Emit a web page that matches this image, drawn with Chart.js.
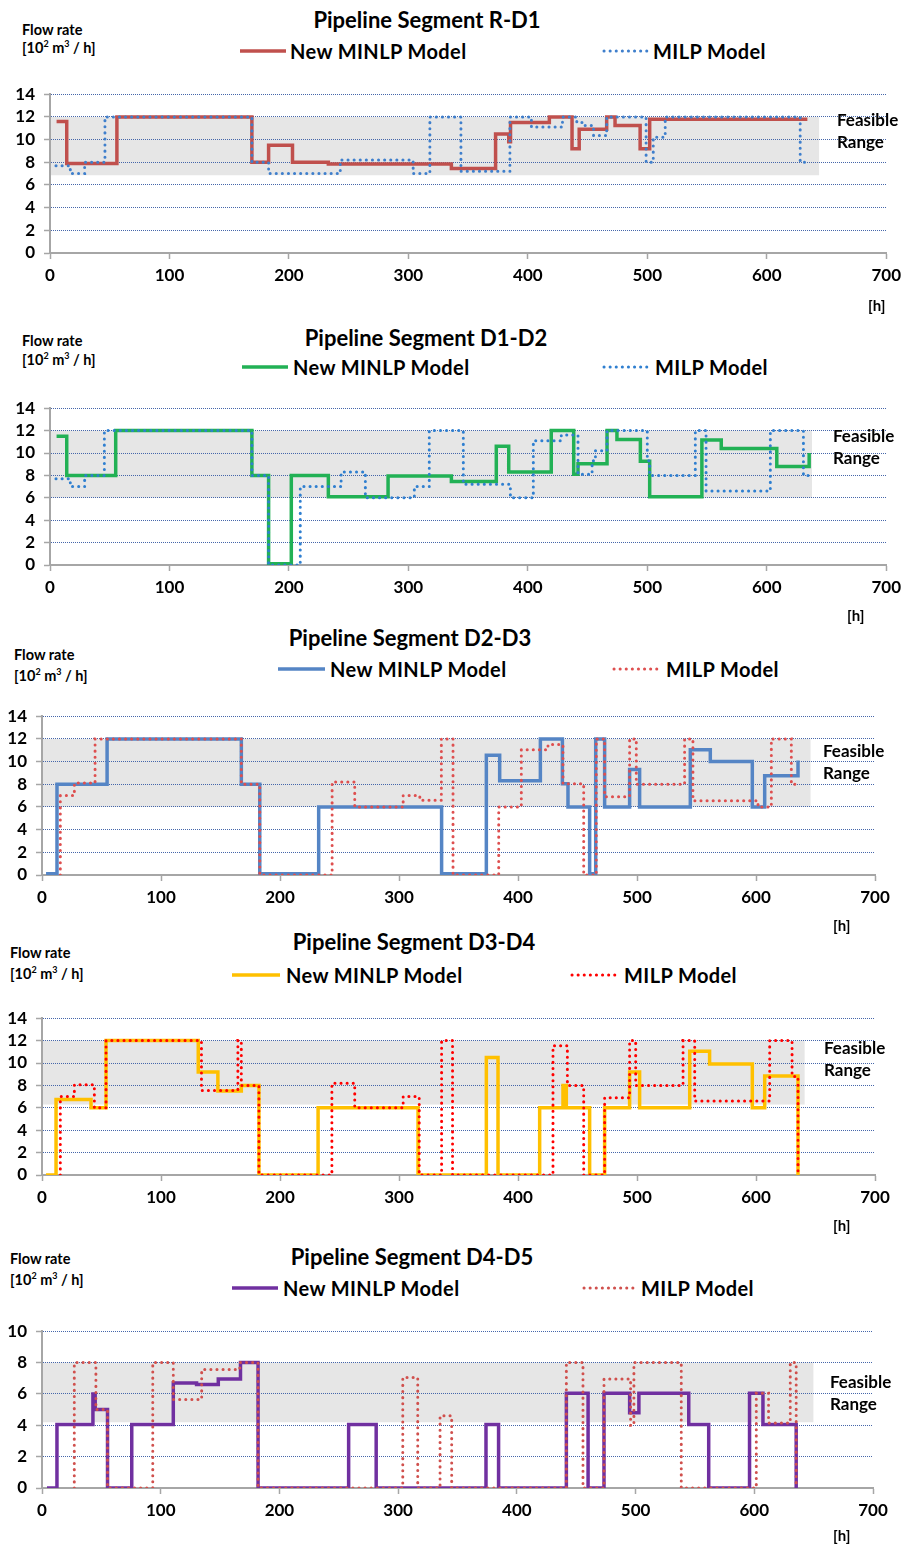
<!DOCTYPE html>
<html><head><meta charset="utf-8">
<script src="https://cdn.jsdelivr.net/npm/chart.js@4.4.1/dist/chart.umd.min.js"></script>
<style>
html,body{margin:0;padding:0;background:#fff;}
body{width:907px;height:1548px;position:relative;overflow:hidden;font-family:Lato,'Open Sans',sans-serif;color:#000;}
canvas{position:absolute;left:0;}
.t{position:absolute;white-space:nowrap;font-weight:700;color:#000;}
.title{font-size:22px;width:600px;text-align:center;line-height:26px;}
.fr{font-size:14.5px;line-height:18px;}
.lg{font-size:20px;line-height:22px;letter-spacing:0.4px;}
.fe{font-size:17px;line-height:20px;}
.h{font-size:15px;line-height:18px;}
sup{font-size:9px;vertical-align:6px;line-height:0;}
svg{position:absolute;overflow:visible;}
</style></head><body>

<script>
// ---------- axis ticks ----------
const xTickValues = [0, 100, 200, 300, 400, 500, 600, 700];
const yTicks14 = [0, 2, 4, 6, 8, 10, 12, 14];
const yTicks10 = [0, 2, 4, 6, 8, 10];

// ---------- feasible ranges (lower, upper, end hour) ----------
const feasLow = [6.85, 6, 6, 6.3, 4.2];
const feasHigh = [12, 12, 12, 12, 8];
const feasEnd = [644, 638, 646, 641, 650];

// ---------- Segment R-D1 ----------
const rd1NewHours = [5.5, 14, 56, 169, 183, 203, 233, 336, 373, 384, 385.5, 418, 437, 443, 466, 473, 494, 502, 634];
const rd1NewFlow  = [11.6, 7.9, 12, 8, 9.5, 8, 7.85, 7.45, 10.5, 9.8, 11.5, 12, 9.2, 10.9, 12, 11.25, 9.2, 11.8, 11.8];
const rd1MilpHours = [5, 17, 29, 46, 169, 183, 243, 304, 318, 344, 385, 403, 429, 441, 447, 455, 466, 499, 505, 515, 628, 634];
const rd1MilpFlow  = [7.7, 7.0, 8.0, 12, 8, 7.0, 8.2, 7.0, 12, 7.2, 12, 11.1, 12, 11.5, 11.25, 10.35, 12, 8, 10.2, 12, 8, 8];

// ---------- Segment D1-D2 ----------
const d12NewHours = [5.5, 14, 55, 169, 183, 202, 233, 283, 336, 373.6, 384, 419.6, 438.4, 442, 466.3, 474.6, 494.2, 502, 545.7, 561.9, 608.4, 635.5];
const d12NewFlow  = [11.5, 8, 12, 8, 0.12, 8, 6.1, 7.95, 7.45, 10.6, 8.3, 12, 8.1, 9.05, 12, 11.2, 9.27, 6.1, 11.15, 10.4, 8.8, 10];
const d12MilpHours = [5, 17, 29, 45.5, 169, 183, 209.5, 243.7, 264, 305, 317.5, 346, 385.4, 404.6, 428, 442, 453.8, 456.6, 466.3, 500, 502, 540.2, 549.2, 603, 630.7, 636];
const d12MilpFlow  = [7.7, 7.0, 8.0, 12, 8, 0, 7.0, 8.3, 6.0, 7.0, 12, 7.2, 6.0, 11.1, 11.6, 8.1, 9.3, 10.2, 12, 9.3, 8.0, 12, 6.6, 12, 8, 8];

// ---------- Segment D2-D3 ----------
const d23NewHours = [3.4, 12.6, 54.7, 167.5, 183, 232.5, 335.8, 373.4, 384.6, 418.8, 437.3, 442, 460.2, 465.3, 472.8, 493.8, 502.2, 544.8, 561.6, 596.9, 607.3, 635.3];
const d23NewFlow  = [0.1, 8, 12, 8, 0.1, 6, 0.1, 10.55, 8.3, 12, 8.05, 6, 0.1, 12, 6, 9.3, 6, 11.05, 10, 6, 8.75, 10.1];
const d23MilpHours = [15.4, 15.4, 27.2, 44.6, 167.5, 183, 243.8, 262.8, 303.5, 317.5, 335.6, 345.4, 383.8, 402.8, 425.2, 437.8, 455.2, 465.8, 472.8, 493.8, 499.4, 540, 547, 601.7, 612.9, 629.7, 635];
const d23MilpFlow  = [0, 7.0, 8.1, 12, 8, 0, 8.2, 6.0, 7.0, 6.6, 12, 0, 6.0, 11.05, 11.5, 8.05, 0, 12, 6.9, 12, 8.0, 12, 6.55, 6.0, 12, 8.0, 8.0];

// ---------- Segment D3-D4 ----------
const d34NewHours = [3.4, 11.8, 41.2, 53.8, 131.3, 147.8, 167.5, 182.3, 232, 316, 373.4, 383.2, 418.2, 437.8, 440.6, 460.2, 472.8, 493.8, 502.2, 544.3, 561, 596.9, 607.3, 635.3];
const d34NewFlow  = [0, 6.75, 6, 12, 9.2, 7.5, 8, 0, 6, 0, 10.5, 0, 6, 8, 6, 0, 6, 9.2, 6, 11.05, 9.9, 6, 8.85, 0];
const d34MilpHours = [15.4, 15.4, 27.2, 44, 53.8, 134, 164.6, 167.5, 182.3, 243.6, 262.8, 303.5, 317, 335.8, 345, 429.4, 441.5, 455.2, 472.8, 493.8, 498.9, 538.7, 548.5, 611.5, 630.3, 635.3];
const d34MilpFlow  = [0, 7, 8.05, 6, 12, 7.55, 12, 8, 0, 8.2, 6, 7, 0, 12, 0, 11.55, 8, 0, 6.9, 12, 8, 12, 6.6, 12, 8.8, 0];

// ---------- Segment D4-D5 ----------
const d45NewHours = [4.2, 12.6, 42.9, 44.8, 55.2, 75.6, 110.6, 130.2, 148.5, 167.2, 182, 258.3, 281.5, 374, 384.6, 441.7, 460, 473.4, 495, 502.8, 544.8, 561.6, 596, 607.3, 635.3];
const d45NewFlow  = [0, 4.05, 6, 5, 0, 4.05, 6.7, 6.6, 6.95, 8, 0, 4.05, 0, 4.05, 0, 6.05, 0, 6.05, 4.8, 6.05, 4.05, 0, 6.05, 4.05, 0];
const d45MilpHours = [27.2, 27.2, 45.4, 55.2, 93.3, 110.6, 134.5, 166.6, 182, 303.9, 316.5, 335.3, 345.1, 441.7, 455.7, 473.4, 495.8, 498.6, 538.5, 601.7, 612, 630.3, 635.3];
const d45MilpFlow  = [0, 8, 5, 0, 8, 5.65, 7.55, 8, 0, 7.05, 0, 4.6, 0, 8, 0, 6.95, 4, 8, 0, 6.05, 4.15, 8, 0];

const FONT = "Lato, 'Open Sans', sans-serif";

function pts(h, v) { return h.map((x, i) => ({x: x, y: v[i]})); }

function makePanel(box, idx, newH, newV, newColor, milpH, milpV, milpColor, yTicks) {
  const padTop = 14, xH = 44;
  const cv = document.createElement('canvas');
  const H = (box.B - box.T) + padTop + xH;
  cv.width = 907; cv.height = H;
  cv.style.top = (box.T - padTop) + 'px';
  cv.style.width = '907px'; cv.style.height = H + 'px';
  document.body.appendChild(cv);
  const yMax = yTicks[yTicks.length - 1];
  new Chart(cv, {
    type: 'line',
    data: {
      datasets: [
        {
          label: 'MILP Model', data: pts(milpH, milpV), order: 0,
          stepped: 'before', borderColor: milpColor, borderWidth: 3,
          borderDash: [0.1, 6], borderCapStyle: 'round', pointRadius: 0, fill: false
        },
        {
          label: 'New MINLP Model', data: pts(newH, newV), order: 1,
          stepped: 'before', borderColor: newColor, borderWidth: 3.5,
          borderJoinStyle: 'miter', borderCapStyle: 'butt', pointRadius: 0, fill: false
        },
        {
          label: 'Feasible Range',
          data: [{x: 0, y: feasHigh[idx]}, {x: feasEnd[idx], y: feasHigh[idx]}],
          order: 2, borderWidth: 0, borderColor: 'rgba(0,0,0,0)',
          backgroundColor: '#e6e6e6', pointRadius: 0, fill: {value: feasLow[idx]}
        }
      ]
    },
    options: {
      responsive: false, animation: false, devicePixelRatio: 1,
      layout: {padding: {top: padTop, right: 907 - box.R, bottom: 0, left: 0}},
      plugins: {legend: {display: false}, tooltip: {enabled: false}, title: {display: false},
                filler: {drawTime: 'beforeDraw'}},
      scales: {
        x: {
          type: 'linear', min: 0, max: 700,
          afterBuildTicks: s => { s.ticks = xTickValues.map(v => ({value: v})); },
          afterFit: s => { s.height = xH; },
          ticks: {font: {family: FONT, size: 17, weight: 'bold'}, color: '#000', padding: 6, maxRotation: 0, autoSkip: false},
          grid: {drawOnChartArea: false, drawTicks: true, tickLength: 6, tickColor: '#a6a6a6', tickWidth: 1.5},
          border: {color: '#a6a6a6', width: 2}
        },
        y: {
          type: 'linear', min: 0, max: yMax,
          afterBuildTicks: s => { s.ticks = yTicks.map(v => ({value: v})); },
          afterFit: s => { s.width = box.L; },
          ticks: {font: {family: FONT, size: 17, weight: 'bold'}, color: '#000', padding: 9, autoSkip: false},
          grid: {color: c => (c.tick && c.tick.value === 0) ? 'rgba(0,0,0,0)' : '#4566aa',
                 lineWidth: 1, tickLength: 6, tickColor: '#a6a6a6', tickWidth: 1.5},
          border: {color: '#a6a6a6', width: 2, dash: [1, 1]}
        }
      }
    }
  });
}

makePanel({L: 50, R: 889, T: 89, B: 253}, 0, rd1NewHours, rd1NewFlow, '#C0504D', rd1MilpHours, rd1MilpFlow, '#3F7FCC', yTicks14);
makePanel({L: 50, R: 889, T: 403, B: 565}, 1, d12NewHours, d12NewFlow, '#22B155', d12MilpHours, d12MilpFlow, '#2F7FD0', yTicks14);
makePanel({L: 42, R: 875, T: 711, B: 875}, 2, d23NewHours, d23NewFlow, '#5585C5', d23MilpHours, d23MilpFlow, '#DE4F4F', yTicks14);
makePanel({L: 42, R: 875, T: 1013, B: 1175}, 3, d34NewHours, d34NewFlow, '#FFC000', d34MilpHours, d34MilpFlow, '#FF0000', yTicks14);
makePanel({L: 42, R: 873, T: 1326, B: 1488}, 4, d45NewHours, d45NewFlow, '#7030A0', d45MilpHours, d45MilpFlow, '#D0504D', yTicks10);
</script>

<!-- Panel 1 -->
<div class="t title" style="left:127px;top:7px">Pipeline Segment R-D1</div>
<div class="t fr" style="left:22px;top:21px">Flow rate</div>
<div class="t fr" style="left:22px;top:39px">[10<sup>2</sup> m<sup>3</sup> / h]</div>
<svg style="left:240px;top:48px" width="46" height="6"><line x1="0" y1="3" x2="46" y2="3" stroke="#C0504D" stroke-width="3.5"/></svg>
<div class="t lg" style="left:290px;top:40px">New MINLP Model</div>
<svg style="left:602px;top:48px" width="46" height="6"><line x1="2" y1="3" x2="46" y2="3" stroke="#3F7FCC" stroke-width="3" stroke-dasharray="0.1 6" stroke-linecap="round"/></svg>
<div class="t lg" style="left:653px;top:40px">MILP Model</div>
<div class="t fe" style="left:837px;top:110px">Feasible</div>
<div class="t fe" style="left:837px;top:132px">Range</div>
<div class="t h" style="left:868px;top:296px">[h]</div>

<!-- Panel 2 -->
<div class="t title" style="left:126px;top:325px">Pipeline Segment D1-D2</div>
<div class="t fr" style="left:22px;top:332px">Flow rate</div>
<div class="t fr" style="left:22px;top:351px">[10<sup>2</sup> m<sup>3</sup> / h]</div>
<svg style="left:242px;top:364px" width="46" height="6"><line x1="0" y1="3" x2="46" y2="3" stroke="#22B155" stroke-width="3.5"/></svg>
<div class="t lg" style="left:293px;top:356px">New MINLP Model</div>
<svg style="left:602px;top:364px" width="48" height="6"><line x1="2" y1="3" x2="48" y2="3" stroke="#2F7FD0" stroke-width="3" stroke-dasharray="0.1 6" stroke-linecap="round"/></svg>
<div class="t lg" style="left:655px;top:356px">MILP Model</div>
<div class="t fe" style="left:833px;top:426px">Feasible</div>
<div class="t fe" style="left:833px;top:448px">Range</div>
<div class="t h" style="left:847px;top:606px">[h]</div>

<!-- Panel 3 -->
<div class="t title" style="left:110px;top:625px">Pipeline Segment D2-D3</div>
<div class="t fr" style="left:14px;top:646px">Flow rate</div>
<div class="t fr" style="left:14px;top:667px">[10<sup>2</sup> m<sup>3</sup> / h]</div>
<svg style="left:278px;top:666px" width="47" height="6"><line x1="0" y1="3" x2="47" y2="3" stroke="#5585C5" stroke-width="3.5"/></svg>
<div class="t lg" style="left:330px;top:658px">New MINLP Model</div>
<svg style="left:612px;top:666px" width="48" height="6"><line x1="2" y1="3" x2="48" y2="3" stroke="#DE4F4F" stroke-width="3" stroke-dasharray="0.1 6" stroke-linecap="round"/></svg>
<div class="t lg" style="left:666px;top:658px">MILP Model</div>
<div class="t fe" style="left:823px;top:741px">Feasible</div>
<div class="t fe" style="left:823px;top:763px">Range</div>
<div class="t h" style="left:833px;top:916px">[h]</div>

<!-- Panel 4 -->
<div class="t title" style="left:114px;top:929px">Pipeline Segment D3-D4</div>
<div class="t fr" style="left:10px;top:944px">Flow rate</div>
<div class="t fr" style="left:10px;top:965px">[10<sup>2</sup> m<sup>3</sup> / h]</div>
<svg style="left:232px;top:972px" width="48" height="6"><line x1="0" y1="3" x2="48" y2="3" stroke="#FFC000" stroke-width="3.5"/></svg>
<div class="t lg" style="left:286px;top:964px">New MINLP Model</div>
<svg style="left:570px;top:972px" width="50" height="6"><line x1="2" y1="3" x2="50" y2="3" stroke="#FF0000" stroke-width="3" stroke-dasharray="0.1 6" stroke-linecap="round"/></svg>
<div class="t lg" style="left:624px;top:964px">MILP Model</div>
<div class="t fe" style="left:824px;top:1038px">Feasible</div>
<div class="t fe" style="left:824px;top:1060px">Range</div>
<div class="t h" style="left:833px;top:1216px">[h]</div>

<!-- Panel 5 -->
<div class="t title" style="left:112px;top:1244px">Pipeline Segment D4-D5</div>
<div class="t fr" style="left:10px;top:1250px">Flow rate</div>
<div class="t fr" style="left:10px;top:1271px">[10<sup>2</sup> m<sup>3</sup> / h]</div>
<svg style="left:232px;top:1285px" width="46" height="6"><line x1="0" y1="3" x2="46" y2="3" stroke="#7030A0" stroke-width="3.5"/></svg>
<div class="t lg" style="left:283px;top:1277px">New MINLP Model</div>
<svg style="left:582px;top:1285px" width="54" height="6"><line x1="2" y1="3" x2="54" y2="3" stroke="#D0504D" stroke-width="3" stroke-dasharray="0.1 6" stroke-linecap="round"/></svg>
<div class="t lg" style="left:641px;top:1277px">MILP Model</div>
<div class="t fe" style="left:830px;top:1372px">Feasible</div>
<div class="t fe" style="left:830px;top:1394px">Range</div>
<div class="t h" style="left:833px;top:1526px">[h]</div>
</body></html>
